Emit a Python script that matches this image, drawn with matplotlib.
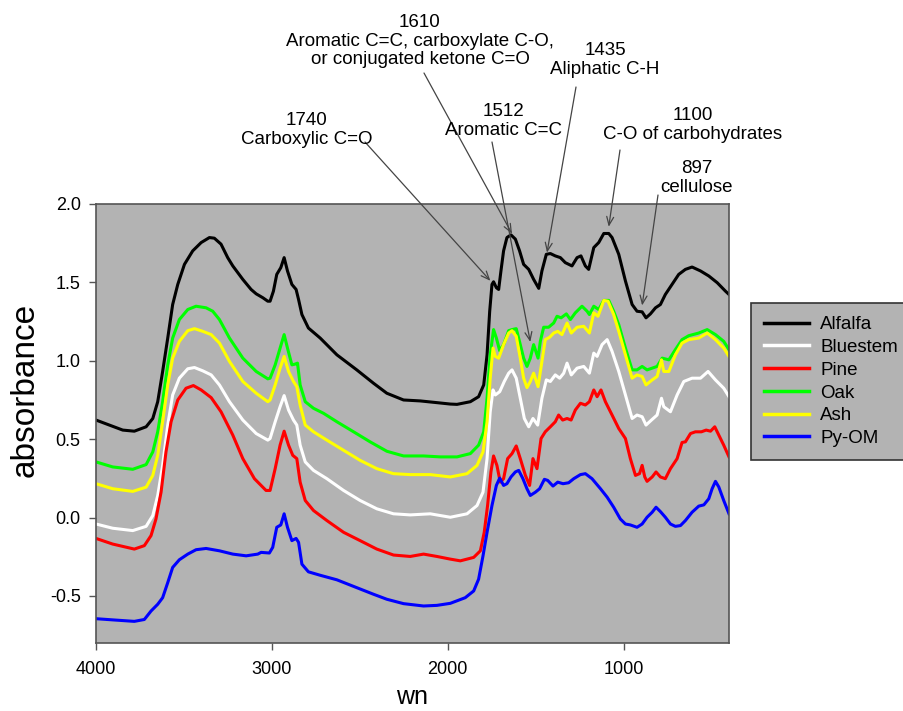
import matplotlib
matplotlib.use("Agg")
import matplotlib.pyplot as plt

plt.rcParams['font.family'] = ['Liberation Sans', 'DejaVu Sans']

# FTIR spectra (wavenumber, absorbance)
alfalfa_wn = [4000, 3924, 3848, 3782, 3715, 3677, 3649, 3621, 3592, 3564, 3535, 3497, 3450, 3402,
              3355, 3327, 3289, 3251, 3222, 3165, 3118, 3089, 3051, 3023, 3010, 2991, 2972, 2949,
              2930, 2911, 2886, 2862, 2848, 2829, 2792, 2725, 2630, 2517, 2422, 2346, 2251, 2156,
              2061, 1985, 1947, 1871, 1824, 1795, 1776, 1761, 1748, 1739, 1723, 1710, 1697, 1682,
              1663, 1640, 1615, 1591, 1568, 1539, 1511, 1482, 1464, 1439, 1416, 1388, 1359, 1331,
              1293, 1264, 1242, 1217, 1198, 1169, 1141, 1112, 1084, 1065, 1027, 989, 951, 923, 894,
              872, 847, 818, 790, 762, 724, 686, 648, 610, 562, 515, 467, 420, 400]
alfalfa_abs = [0.622, 0.590, 0.558, 0.551, 0.579, 0.632, 0.739, 0.932, 1.145, 1.359, 1.487, 1.615,
               1.701, 1.754, 1.786, 1.782, 1.744, 1.658, 1.605, 1.519, 1.455, 1.427, 1.402, 1.380,
               1.380, 1.444, 1.551, 1.594, 1.658, 1.573, 1.487, 1.455, 1.391, 1.295, 1.209, 1.145,
               1.038, 0.942, 0.857, 0.793, 0.750, 0.744, 0.733, 0.724, 0.722, 0.739, 0.771, 0.846,
               1.038, 1.316, 1.487, 1.504, 1.466, 1.455, 1.573, 1.701, 1.786, 1.803, 1.776, 1.701,
               1.615, 1.583, 1.519, 1.462, 1.573, 1.679, 1.684, 1.669, 1.658, 1.626, 1.605, 1.658,
               1.669, 1.605, 1.583, 1.722, 1.754, 1.812, 1.812, 1.786, 1.679, 1.509, 1.359, 1.316,
               1.312, 1.274, 1.299, 1.338, 1.359, 1.423, 1.487, 1.551, 1.583, 1.598, 1.573, 1.541,
               1.498, 1.444, 1.423]

bluestem_wn = [4000, 3905, 3791, 3715, 3677, 3649, 3621, 3592, 3564, 3526, 3478, 3440, 3393, 3345,
               3298, 3241, 3165, 3089, 3023, 3010, 2981, 2953, 2930, 2905, 2877, 2858, 2839, 2810,
               2763, 2687, 2592, 2498, 2403, 2308, 2213, 2099, 1985, 1890, 1833, 1799, 1776, 1758,
               1742, 1729, 1704, 1678, 1653, 1634, 1610, 1587, 1564, 1539, 1515, 1488, 1464, 1439,
               1416, 1388, 1363, 1340, 1321, 1297, 1264, 1226, 1194, 1169, 1150, 1122, 1093, 1065,
               1027, 989, 951, 923, 894, 872, 841, 809, 784, 771, 733, 695, 657, 610, 562, 519, 477,
               430, 400]
bluestem_abs = [-0.041, -0.068, -0.083, -0.056, 0.013, 0.141, 0.333, 0.590, 0.782, 0.889, 0.949,
                0.957, 0.936, 0.910, 0.846, 0.739, 0.622, 0.536, 0.494, 0.504, 0.611, 0.707, 0.778,
                0.686, 0.622, 0.590, 0.462, 0.355, 0.301, 0.248, 0.173, 0.109, 0.056, 0.024, 0.017,
                0.024, 0.002, 0.024, 0.077, 0.162, 0.376, 0.675, 0.814, 0.782, 0.803, 0.868, 0.921,
                0.942, 0.889, 0.761, 0.632, 0.579, 0.632, 0.590, 0.761, 0.878, 0.868, 0.910, 0.889,
                0.921, 0.985, 0.910, 0.953, 0.964, 0.921, 1.049, 1.028, 1.103, 1.135, 1.060, 0.932,
                0.782, 0.632, 0.654, 0.643, 0.590, 0.622, 0.654, 0.761, 0.707, 0.675, 0.782, 0.868,
                0.889, 0.889, 0.932, 0.878, 0.825, 0.771]

pine_wn = [4000, 3905, 3782, 3725, 3687, 3659, 3630, 3602, 3573, 3535, 3488, 3446, 3402, 3345, 3289,
           3222, 3165, 3099, 3033, 3010, 2981, 2953, 2930, 2905, 2881, 2858, 2839, 2810, 2763, 2687,
           2592, 2498, 2403, 2308, 2213, 2137, 2061, 1985, 1928, 1852, 1814, 1792, 1773, 1754, 1739,
           1720, 1701, 1682, 1659, 1634, 1610, 1587, 1558, 1534, 1515, 1492, 1469, 1445, 1416, 1388,
           1369, 1346, 1321, 1298, 1274, 1245, 1217, 1194, 1169, 1150, 1128, 1103, 1065, 1027, 989,
           961, 932, 909, 894, 879, 866, 837, 815, 790, 762, 733, 695, 667, 648, 619, 591, 557, 530,
           505, 481, 458, 430, 400]
pine_abs = [-0.133, -0.169, -0.201, -0.179, -0.115, -0.009, 0.162, 0.419, 0.611, 0.750, 0.825, 0.842,
            0.814, 0.765, 0.675, 0.526, 0.376, 0.248, 0.173, 0.173, 0.312, 0.462, 0.551, 0.462,
            0.397, 0.376, 0.226, 0.109, 0.045, -0.019, -0.094, -0.147, -0.201, -0.239, -0.248,
            -0.233, -0.248, -0.265, -0.276, -0.254, -0.212, -0.094, 0.077, 0.291, 0.393, 0.333,
            0.226, 0.248, 0.376, 0.408, 0.457, 0.376, 0.269, 0.205, 0.376, 0.312, 0.504, 0.547,
            0.579, 0.611, 0.654, 0.622, 0.632, 0.622, 0.686, 0.729, 0.718, 0.739, 0.814, 0.771,
            0.814, 0.739, 0.654, 0.568, 0.504, 0.376, 0.269, 0.280, 0.333, 0.259, 0.231, 0.259,
            0.291, 0.259, 0.248, 0.312, 0.376, 0.479, 0.483, 0.536, 0.547, 0.547, 0.558, 0.551,
            0.579, 0.526, 0.462, 0.387]

oak_wn = [4000, 3905, 3791, 3715, 3677, 3649, 3621, 3592, 3564, 3526, 3478, 3431, 3374, 3336, 3298,
          3241, 3165, 3089, 3023, 3010, 2981, 2953, 2930, 2911, 2886, 2867, 2854, 2839, 2810, 2763,
          2706, 2630, 2535, 2441, 2346, 2251, 2137, 2042, 1947, 1871, 1824, 1795, 1776, 1758, 1739,
          1723, 1704, 1682, 1653, 1634, 1610, 1587, 1568, 1549, 1530, 1511, 1486, 1473, 1454, 1426,
          1397, 1378, 1355, 1325, 1302, 1274, 1236, 1207, 1194, 1169, 1141, 1112, 1084, 1056, 1027,
          989, 951, 923, 894, 866, 837, 809, 780, 742, 705, 667, 629, 572, 524, 477, 430, 400]
oak_abs = [0.355, 0.323, 0.308, 0.338, 0.419, 0.547, 0.739, 0.974, 1.145, 1.263, 1.327, 1.348, 1.338,
           1.316, 1.263, 1.145, 1.017, 0.932, 0.885, 0.889, 0.974, 1.081, 1.167, 1.081, 0.974,
           0.979, 0.985, 0.846, 0.739, 0.697, 0.665, 0.611, 0.547, 0.483, 0.423, 0.393, 0.393,
           0.387, 0.387, 0.408, 0.462, 0.547, 0.761, 1.038, 1.199, 1.145, 1.064, 1.103, 1.192,
           1.199, 1.205, 1.103, 1.017, 0.964, 1.017, 1.103, 1.017, 1.124, 1.214, 1.214, 1.241,
           1.284, 1.274, 1.299, 1.263, 1.306, 1.348, 1.316, 1.295, 1.348, 1.327, 1.385, 1.385,
           1.316, 1.231, 1.081, 0.942, 0.942, 0.964, 0.942, 0.953, 0.964, 1.017, 1.006, 1.071,
           1.135, 1.160, 1.177, 1.199, 1.167, 1.124, 1.071]

ash_wn = [4000, 3905, 3791, 3715, 3677, 3649, 3621, 3592, 3564, 3526, 3478, 3440, 3393, 3345, 3298,
          3241, 3165, 3089, 3023, 3010, 2981, 2953, 2930, 2905, 2877, 2858, 2839, 2810, 2763, 2687,
          2592, 2498, 2403, 2308, 2213, 2099, 1985, 1890, 1833, 1799, 1776, 1758, 1742, 1729, 1710,
          1682, 1653, 1634, 1610, 1587, 1568, 1549, 1530, 1511, 1486, 1464, 1445, 1420, 1397, 1374,
          1350, 1321, 1297, 1264, 1226, 1194, 1169, 1145, 1112, 1088, 1056, 1027, 989, 951, 923,
          894, 872, 837, 809, 784, 771, 742, 705, 667, 629, 572, 524, 477, 430, 400]
ash_abs = [0.216, 0.184, 0.167, 0.194, 0.269, 0.397, 0.611, 0.846, 1.017, 1.124, 1.192, 1.205, 1.188,
           1.167, 1.113, 0.996, 0.868, 0.793, 0.739, 0.750, 0.846, 0.953, 1.028, 0.932, 0.868,
           0.835, 0.718, 0.590, 0.547, 0.494, 0.429, 0.365, 0.312, 0.280, 0.274, 0.274, 0.259,
           0.280, 0.333, 0.419, 0.611, 0.889, 1.081, 1.028, 1.017, 1.103, 1.177, 1.192, 1.156,
           1.017, 0.889, 0.829, 0.868, 0.921, 0.835, 0.996, 1.135, 1.150, 1.177, 1.188, 1.167,
           1.241, 1.177, 1.214, 1.220, 1.177, 1.306, 1.284, 1.385, 1.380, 1.295, 1.188, 1.038,
           0.889, 0.910, 0.900, 0.846, 0.878, 0.900, 1.006, 0.932, 0.932, 1.038, 1.113, 1.135,
           1.145, 1.177, 1.135, 1.081, 1.028]

pyom_wn = [4000, 3886, 3782, 3725, 3687, 3649, 3621, 3592, 3564, 3526, 3478, 3431, 3374, 3298, 3222,
           3146, 3080, 3061, 3014, 2995, 2972, 2949, 2930, 2911, 2886, 2862, 2848, 2829, 2792, 2725,
           2630, 2517, 2422, 2346, 2251, 2137, 2061, 1985, 1900, 1852, 1824, 1799, 1776, 1748, 1723,
           1704, 1682, 1663, 1640, 1615, 1596, 1572, 1549, 1530, 1501, 1477, 1450, 1431, 1401, 1374,
           1344, 1312, 1283, 1245, 1217, 1179, 1131, 1093, 1056, 1018, 989, 961, 923, 894, 866, 837,
           815, 790, 762, 733, 705, 676, 648, 610, 572, 543, 515, 496, 477, 458, 430, 400]
pyom_abs = [-0.645, -0.654, -0.662, -0.650, -0.596, -0.553, -0.511, -0.415, -0.318, -0.269, -0.233,
            -0.205, -0.197, -0.212, -0.233, -0.244, -0.233, -0.222, -0.226, -0.190, -0.062, -0.047,
            0.024, -0.062, -0.147, -0.133, -0.158, -0.297, -0.346, -0.368, -0.397, -0.447, -0.489,
            -0.521, -0.549, -0.564, -0.560, -0.547, -0.511, -0.468, -0.393, -0.244, -0.094, 0.077,
            0.205, 0.252, 0.205, 0.216, 0.259, 0.291, 0.301, 0.248, 0.184, 0.141, 0.162, 0.184,
            0.244, 0.237, 0.201, 0.226, 0.216, 0.222, 0.248, 0.274, 0.280, 0.248, 0.184, 0.130,
            0.066, -0.009, -0.041, -0.047, -0.062, -0.041, 0.002, 0.034, 0.066, 0.038, 0.002,
            -0.041, -0.056, -0.051, -0.019, 0.034, 0.073, 0.081, 0.120, 0.184, 0.231, 0.195, 0.109,
            0.024]

series_names = ['Alfalfa', 'Bluestem', 'Pine', 'Oak', 'Ash', 'Py-OM']
series_colors = ['black', 'white', '#ff0000', '#00ff00', '#ffff00', '#0000ff']

# band annotations: label text, target (wn, absorbance)
band_labels = ['1740\nCarboxylic C=O',
               '1610\nAromatic C=C, carboxylate C-O,\nor conjugated ketone C=O',
               '1512\nAromatic C=C',
               '1435\nAliphatic C-H',
               '1100\nC-O of carbohydrates',
               '897\ncellulose']
band_target_wn = [1757, 1634, 1530, 1435, 1084, 894]
band_target_abs = [1.51, 1.81, 1.12, 1.69, 1.855, 1.353]

H = 711
fig = plt.figure(figsize=(9.04, 7.11), dpi=100)
ax = fig.add_axes([96 / 904, 1 - 643 / H, (729 - 96) / 904, (643 - 204) / H])
bg = '#b3b3b3'
ax.set_facecolor(bg)

wns = [alfalfa_wn, bluestem_wn, pine_wn, oak_wn, ash_wn, pyom_wn]
vals = [alfalfa_abs, bluestem_abs, pine_abs, oak_abs, ash_abs, pyom_abs]
for w, v, name, c in zip(wns, vals, series_names, series_colors):
    ax.plot(w, v, color=c, lw=2.2, label=name, solid_joinstyle='round')

ax.set_xlim(4000, 400)
ax.set_ylim(-0.8, 2.0)
ax.set_xticks([4000, 3000, 2000, 1000])
ax.set_yticks([-0.5, 0.0, 0.5, 1.0, 1.5, 2.0])
ax.set_yticklabels(['%.1f' % t for t in [-0.5, 0.0, 0.5, 1.0, 1.5, 2.0]])
for s in ax.spines.values():
    s.set_color('#555555')
    s.set_linewidth(1.2)
ax.tick_params(axis='both', direction='out', length=5, width=1, color='#555555', labelsize=13)
ax.tick_params(axis='x', pad=8)
ax.tick_params(axis='y', pad=6)

ax.set_xlabel('wn', fontsize=18)
ax.xaxis.set_label_coords(0.5, -0.122)
ax.xaxis.label.set_va('center')
ax.set_ylabel('absorbance', fontsize=24)
ax.yaxis.set_label_coords(-0.112, 0.576)
ax.yaxis.label.set_va('center')

# text blocks (figure pixel centres) and arrow start points
text_pos = [(307, 130), (420, 41), (504, 121), (605, 60), (693, 125), (697, 178)]
arrow_start = [(365, 142), (424, 73), (492, 142), (576, 87), (620, 150), (658, 195)]
for lab, (tx, ty), (sx, sy), wn, a in zip(band_labels, text_pos, arrow_start,
                                          band_target_wn, band_target_abs):
    fig.text(tx / 904, 1 - ty / H, lab, ha='center', va='center', fontsize=13.5, linespacing=1.15)
    ax.annotate('', xy=(wn, a), xycoords='data', xytext=(sx, H - sy),
                textcoords='figure pixels', annotation_clip=False,
                arrowprops=dict(arrowstyle='->,head_length=0.6,head_width=0.25',
                                color='#444444', lw=0.9, shrinkA=0, shrinkB=0))

leg = fig.legend(loc='upper left', bbox_to_anchor=(751 / 904, 1 - 303 / H), borderaxespad=0,
                 fontsize=13.5, frameon=True, fancybox=False, facecolor=bg, edgecolor='#333333',
                 handlelength=2.4, handletextpad=0.6, labelspacing=0.3, borderpad=0.7)
leg.get_frame().set_linewidth(1.2)
leg.get_frame().set_alpha(1)
for ln in leg.get_lines():
    ln.set_linewidth(2.5)

fig.savefig('out.png', dpi=100, facecolor='white')
